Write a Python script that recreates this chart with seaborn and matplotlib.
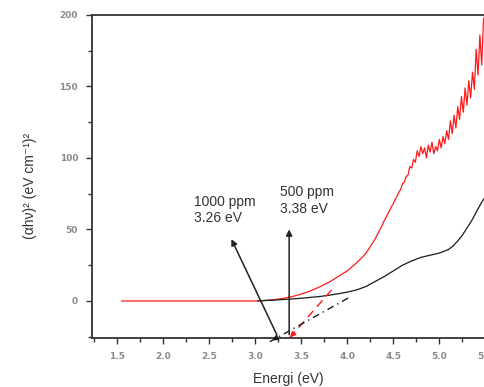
import matplotlib
matplotlib.use("Agg")
import matplotlib.pyplot as plt
import seaborn as sns
import pandas as pd
import numpy as np

# ---- data ----
red_E = [1.55, 2.0, 2.5, 3.0, 3.1, 3.2, 3.3, 3.4, 3.5, 3.6, 3.7, 3.8, 3.9, 4.0, 4.1, 4.2, 4.3,
         4.36, 4.38, 4.40, 4.42, 4.44, 4.46, 4.48, 4.50, 4.52, 4.54, 4.56, 4.58, 4.60, 4.62,
         4.64, 4.66, 4.68, 4.70, 4.72, 4.74, 4.76, 4.78, 4.80, 4.82, 4.84, 4.86, 4.88, 4.90,
         4.92, 4.94, 4.96, 4.98, 5.00, 5.02, 5.04, 5.06, 5.08, 5.10, 5.12, 5.14, 5.16, 5.18,
         5.20, 5.22, 5.24, 5.26, 5.28, 5.30, 5.32, 5.34, 5.36, 5.38, 5.40, 5.42, 5.44, 5.46,
         5.48, 5.50]
red_val = [0, 0, 0, 0, 0.3, 0.8, 1.8, 3.0, 4.8, 7.0, 9.8, 13, 17, 21, 26.5, 33, 43,
           50.5, 53, 56, 58, 61, 63, 66, 68, 71, 73, 76, 78, 82, 83,
           87, 88, 94, 93, 99, 97, 105, 101, 108, 103, 107, 100, 109, 104,
           111, 103, 108, 105, 113, 107, 115, 110, 119, 113, 126, 117, 130, 121,
           136, 127, 143, 132, 149, 137, 154, 142, 160, 148, 176, 158, 186, 165,
           197, 200]

black_E = [3.03, 3.1, 3.2, 3.3, 3.4, 3.5, 3.6, 3.7, 3.8, 3.9, 4.0, 4.1, 4.2, 4.3, 4.4, 4.5,
           4.6, 4.7, 4.8, 4.9, 5.0, 5.1, 5.15, 5.2, 5.25, 5.3, 5.35, 5.4, 5.45, 5.5]
black_val = [0, 0.3, 0.6, 1.0, 1.4, 1.9, 2.5, 3.1, 4.0, 5.0, 6.2, 7.7, 10, 13.5, 17, 21,
             25, 28, 30.5, 32, 33.5, 36, 38.5, 42, 46, 51, 56, 62, 68, 73]

# extrapolation (tangent) lines
red_tan_E = [3.83, 3.36]
red_tan_val = [7.7, -27]
black_tan_E = [4.01, 3.16]
black_tan_val = [2.0, -28.5]

# band-gap arrows: (tail, head)
arrow_1000 = [(3.25, -25.5), (2.73, 45)]
arrow_500 = [(3.37, -25.5), (3.37, 52)]
label_1000 = "1000 ppm\n3.26 eV"
label_500 = "500 ppm\n3.38 eV"

x_ticks = [1.5, 2.0, 2.5, 3.0, 3.5, 4.0, 4.5, 5.0, 5.5]
y_ticks = [0, 50, 100, 150, 200]

sns.set_theme(style="ticks")
plt.rcParams['font.family'] = ['Liberation Sans', 'DejaVu Sans']

fig = plt.figure(figsize=(4.85, 3.87), dpi=100)
W, H = 485, 387
ax = fig.add_axes([92 / W, 49 / H, 398 / W, 323 / H])

red_df = pd.DataFrame({"E": red_E, "v": red_val})
black_df = pd.DataFrame({"E": black_E, "v": black_val})
sns.lineplot(data=red_df, x="E", y="v", ax=ax, color="#ff1a1a", lw=0.9, estimator=None, sort=False)
sns.lineplot(data=black_df, x="E", y="v", ax=ax, color="#1a1a1a", lw=0.9, estimator=None, sort=False)

# tangent lines
ax.plot(red_tan_E, red_tan_val, color="#ff1a1a", lw=1.0, ls=(0, (6, 4)), clip_on=False)
ax.plot(black_tan_E, black_tan_val, color="#1a1a1a", lw=1.0, ls=(0, (5, 3, 1, 3)), clip_on=False)
ax.annotate("", xy=(red_tan_E[1], red_tan_val[1]),
            xytext=(red_tan_E[1] + 0.06, red_tan_val[1] + 4.4),
            arrowprops=dict(arrowstyle="-|>", color="#ff1a1a", lw=1.0, mutation_scale=8),
            annotation_clip=False)
ax.annotate("", xy=(black_tan_E[1], black_tan_val[1]),
            xytext=(black_tan_E[1] + 0.08, black_tan_val[1] + 2.9),
            arrowprops=dict(arrowstyle="-|>", color="#1a1a1a", lw=1.0, mutation_scale=8),
            annotation_clip=False)

# band gap arrows
for (tail, head) in (arrow_1000, arrow_500):
    ax.annotate("", xy=head, xytext=tail,
                arrowprops=dict(arrowstyle="-|>", color="#222222", lw=1.1, mutation_scale=9),
                annotation_clip=False)

ax.text(2.337, 63.7, label_1000, fontsize=10, color="#333333", ha="left", va="center",
        linespacing=1.2)
ax.text(3.27, 70.3, label_500, fontsize=10, color="#333333", ha="left", va="center",
        linespacing=1.2)

ax.set_xlim(1.23, 5.55)
ax.set_ylim(-25.9, 200)
ax.set_xticks(x_ticks)
ax.set_xticklabels([f"{t:.1f}" for t in x_ticks])
ax.set_yticks(y_ticks)
ax.set_xticks(np.arange(1.25, 5.6, 0.25), minor=True)
ax.set_yticks([-25, 25, 75, 125, 175], minor=True)
ax.tick_params(which="major", direction="out", length=4, width=1.0, color="#333333",
               labelsize=6.5, labelcolor="#8a8a8a", pad=6)
ax.tick_params(which="minor", direction="out", length=3, width=1.0, color="#333333")
for lab in ax.get_xticklabels() + ax.get_yticklabels():
    lab.set_family(['DejaVu Sans'])
    lab.set_fontweight('bold')
ax.set_xlabel("")
ax.set_ylabel("")
for s in ["left", "bottom", "top"]:
    ax.spines[s].set_color("#333333")
    ax.spines[s].set_linewidth(1.3)
ax.spines["right"].set_visible(False)
ax.spines["top"].set_visible(True)

fig.text(288 / W, 1 - 379 / H, "Energi (eV)", fontsize=10, color="#333333", ha="center", va="center")
fig.text(30 / W, 1 - 186 / H, "(αhν)² (eV cm⁻¹)²", fontsize=10, color="#333333",
         ha="center", va="center", rotation=90)

fig.savefig("out.png", dpi=100)
